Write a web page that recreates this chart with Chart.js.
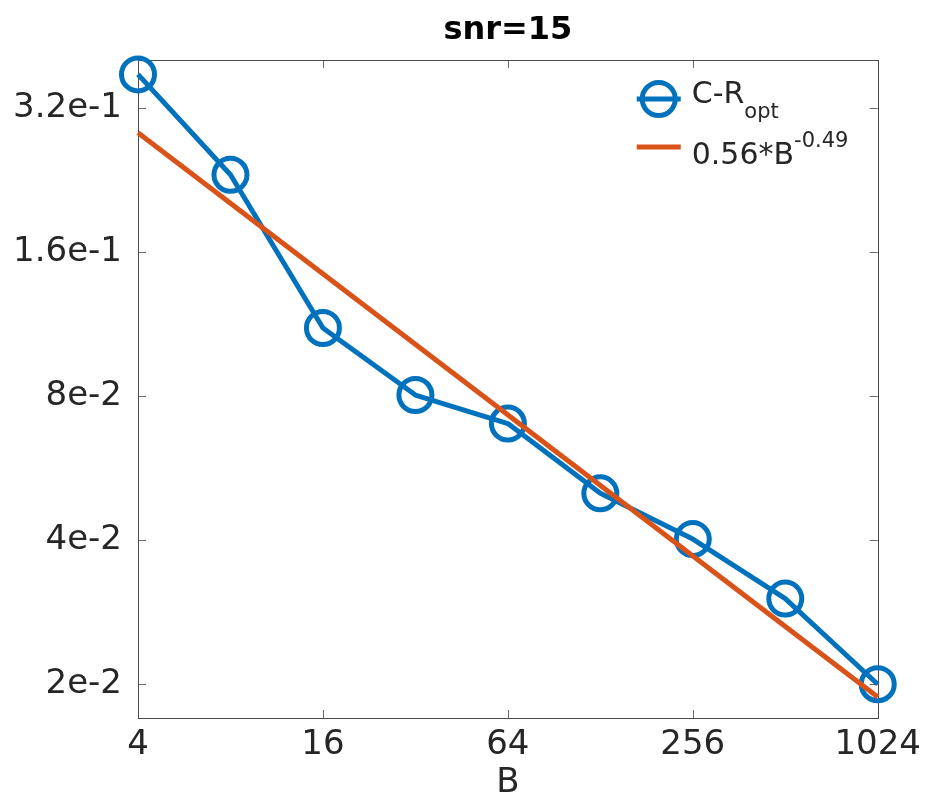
<!DOCTYPE html>
<html>
<head>
<meta charset="utf-8">
<title>snr=15</title>
<script src="https://cdn.jsdelivr.net/npm/chart.js@4.4.1/dist/chart.umd.min.js"></script>
<style>
  html, body { margin: 0; padding: 0; background: #ffffff; }
  #wrap { width: 928px; height: 804px; }
</style>
</head>
<body>
<div id="wrap"><canvas id="snrChart" width="928" height="804"></canvas></div>
<script>
// Error vs. block size B at snr=15, log-log axes
const blockSizes = [4, 8, 16, 32, 64, 128, 256, 512, 1024];
const crOpt = [0.376, 0.232, 0.111, 0.0804, 0.0701, 0.0501, 0.0402, 0.0302, 0.0200];

// Power-law fit 0.56*B^-0.49, end points only (straight on log-log)
const fitSizes = [4, 1024];
const fitValues = [0.284, 0.0188];

const xTickValues = [4, 16, 64, 256, 1024];
const yTickValues = [0.02, 0.04, 0.08, 0.16, 0.32];
const yTickLabels = ['2e-2', '4e-2', '8e-2', '1.6e-1', '3.2e-1'];

const BLUE = '#0072BD';
const ORANGE = '#D95319';
const AXIS_COLOR = '#262626';
const FONT = '"DejaVu Sans", "Liberation Sans", sans-serif';

// Box around the plot with inward tick marks on all four sides
const axesBox = {
    id: 'axesBox',
    beforeDatasetsDraw(chart) {
        const { ctx, chartArea: a, scales } = chart;
        const len = 8;
        ctx.save();
        ctx.strokeStyle = '#6a6a6a';
        ctx.lineWidth = 1;
        ctx.beginPath();
        xTickValues.forEach(v => {
            const px = Math.round(scales.x.getPixelForValue(v)) + 0.5;
            ctx.moveTo(px, a.bottom); ctx.lineTo(px, a.bottom - len);
            ctx.moveTo(px, a.top); ctx.lineTo(px, a.top + len);
        });
        yTickValues.forEach(v => {
            const py = Math.round(scales.y.getPixelForValue(v)) + 0.5;
            ctx.moveTo(a.left, py); ctx.lineTo(a.left + len, py);
            ctx.moveTo(a.right, py); ctx.lineTo(a.right - len, py);
        });
        ctx.stroke();
        ctx.strokeStyle = '#4a4a4a';
        ctx.strokeRect(Math.round(a.left) + 0.5, Math.round(a.top) + 0.5,
            Math.round(a.right - a.left), Math.round(a.bottom - a.top));
        ctx.restore();
    }
};

// Title centred over the plot area and a legend with sub/superscripts
function drawParts(ctx, x, y, parts) {
    parts.forEach(p => {
        ctx.font = (p.bold ? 'bold ' : '') + p.size + 'px ' + FONT;
        ctx.fillText(p.text, x, y + (p.dy || 0));
        x += ctx.measureText(p.text).width;
    });
}

const titleAndLegend = {
    id: 'titleAndLegend',
    afterDraw(chart) {
        const { ctx, chartArea: a } = chart;
        ctx.save();
        ctx.fillStyle = '#000000';
        ctx.textBaseline = 'alphabetic';
        ctx.textAlign = 'center';
        ctx.font = 'bold 32px ' + FONT;
        ctx.fillText('snr=15', (a.left + a.right) / 2, 39);

        ctx.textAlign = 'left';
        ctx.fillStyle = AXIS_COLOR;
        const x0 = a.right - 241, x1 = a.right - 197, tx = a.right - 186;
        const rows = [
            { color: BLUE, marker: true, lineY: a.top + 39, baseY: a.top + 43,
              parts: [{ text: 'C-R', size: 30 }, { text: 'opt', size: 21, dy: 15 }] },
            { color: ORANGE, marker: false, lineY: a.top + 87, baseY: a.top + 104,
              parts: [{ text: '0.56*B', size: 30 }, { text: '-0.49', size: 21, dy: -17 }] }
        ];
        rows.forEach(r => {
            ctx.strokeStyle = r.color;
            ctx.lineWidth = 5;
            ctx.beginPath();
            ctx.moveTo(x0, r.lineY); ctx.lineTo(x1, r.lineY);
            ctx.stroke();
            if (r.marker) {
                ctx.beginPath();
                ctx.arc((x0 + x1) / 2, r.lineY, 16.5, 0, Math.PI * 2);
                ctx.stroke();
            }
            drawParts(ctx, tx, r.baseY, r.parts);
        });
        ctx.restore();
    }
};

const ctx = document.getElementById('snrChart');
const snrChart = new Chart(ctx, {
    type: 'line',
    data: {
        datasets: [{
            label: 'C-R opt',
            data: blockSizes.map((b, i) => ({ x: b, y: crOpt[i] })),
            borderColor: BLUE,
            borderWidth: 5,
            borderJoinStyle: 'round',
            pointRadius: 16.5,
            pointBorderWidth: 5,
            pointBorderColor: BLUE,
            pointBackgroundColor: 'rgba(0,0,0,0)',
            tension: 0,
            clip: false,
            order: 1
        }, {
            label: '0.56*B^-0.49',
            data: fitSizes.map((b, i) => ({ x: b, y: fitValues[i] })),
            borderColor: ORANGE,
            borderWidth: 5,
            pointRadius: 0,
            tension: 0,
            clip: false,
            order: 0
        }]
    },
    options: {
        responsive: false,
        animation: false,
        layout: { padding: { top: 60, right: 49, bottom: 0, left: 0 } },
        plugins: {
            legend: { display: false },
            tooltip: { enabled: false },
            title: { display: false }
        },
        scales: {
            x: {
                type: 'logarithmic',
                position: 'bottom',
                min: 4,
                max: 1024,
                grid: { display: false, drawTicks: false },
                border: { display: false },
                afterBuildTicks: scale => { scale.ticks = xTickValues.map(v => ({ value: v })); },
                afterFit: scale => { scale.height = 86; },
                ticks: {
                    color: AXIS_COLOR,
                    font: { family: FONT, size: 34 },
                    padding: 7,
                    maxRotation: 0,
                    autoSkip: false,
                    callback: value => String(value)
                },
                title: {
                    display: true,
                    text: 'B',
                    color: AXIS_COLOR,
                    font: { family: FONT, size: 34 },
                    padding: { top: 0, bottom: 0 }
                }
            },
            y: {
                type: 'logarithmic',
                position: 'left',
                min: 0.017,
                max: 0.403,
                grid: { display: false, drawTicks: false },
                border: { display: false },
                afterBuildTicks: scale => { scale.ticks = yTickValues.map(v => ({ value: v })); },
                afterFit: scale => { scale.width = 138; },
                ticks: {
                    color: AXIS_COLOR,
                    font: { family: FONT, size: 34 },
                    padding: 16,
                    autoSkip: false,
                    callback: value => yTickLabels[yTickValues.indexOf(value)]
                }
            }
        }
    },
    plugins: [axesBox, titleAndLegend]
});
</script>
</body>
</html>
